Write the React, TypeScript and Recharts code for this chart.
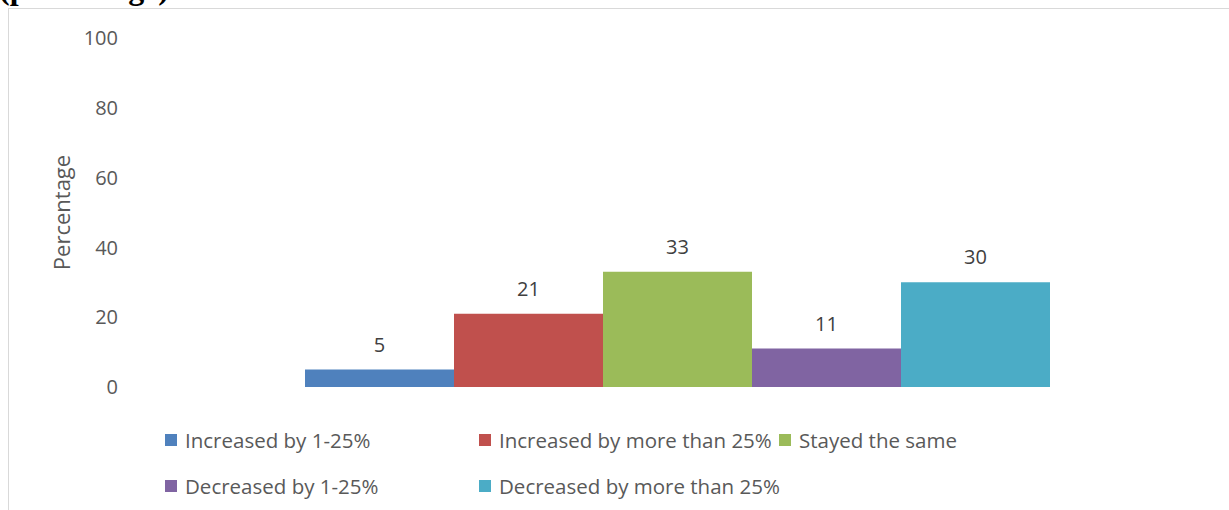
import { BarChart, Bar, XAxis, YAxis, LabelList } from 'recharts';

const seriesNames = [
  'Increased by 1-25%',
  'Increased by more than 25%',
  'Stayed the same',
  'Decreased by 1-25%',
  'Decreased by more than 25%',
];
const seriesValues = [5, 21, 33, 11, 30];
const seriesColors = ['#4F81BD', '#C0504D', '#9BBB59', '#8064A2', '#4BACC6'];
const yTicks = [0, 20, 40, 60, 80, 100];

const FONT = '"Open Sans", "Noto Sans", sans-serif';

const row: Record<string, number | string> = { name: 'All' };
seriesNames.forEach((_, i) => {
  row[`s${i}`] = seriesValues[i];
});
const data = [row];

// legend rows as in the original (3 on top, 2 below)
const legendRows = [[0, 1, 2], [3, 4]];
const colWidths = [314, 300, 300];

function AxisTitle(props: any) {
  const vb = props.viewBox;
  const cy = vb.y + vb.height / 2;
  return (
    <text
      x={61}
      y={cy}
      transform={`rotate(-90, 61, ${cy})`}
      textAnchor="middle"
      dominantBaseline="central"
      fill="#595959"
      fontSize={22}
      fontFamily={FONT}
    >
      Percentage
    </text>
  );
}

export default function App() {
  return (
    <div style={{ position: 'absolute', left: 0, top: 0, width: 1229, height: 510, overflow: 'hidden', background: '#fff' }}>
      {/* cut-off heading from the page above */}
      <svg width={220} height={9} style={{ position: 'absolute', left: 0, top: 0 }}>
        <text x={-1} y={-1} fontFamily='"Liberation Serif", serif' fontWeight="bold" fontSize={32} fill="#000">
          (percentage)
        </text>
      </svg>
      {/* chart frame */}
      <div
        style={{
          position: 'absolute',
          left: 8,
          top: 8,
          width: 1221,
          height: 502,
          borderTop: '1px solid #d9d9d9',
          borderLeft: '1px solid #d9d9d9',
          boxSizing: 'border-box',
        }}
      />
      <div style={{ position: 'absolute', left: 0, top: 0 }}>
        <BarChart
          width={1229}
          height={510}
          data={data}
          margin={{ top: 38, right: 4, bottom: 123, left: 0 }}
          barCategoryGap={175}
          barGap={0}
        >
          <XAxis dataKey="name" hide />
          <YAxis
            width={130}
            domain={[0, 100]}
            ticks={yTicks}
            axisLine={false}
            tickLine={false}
            tickSize={0}
            tickMargin={12}
            tick={{ fill: '#595959', fontSize: 20, fontFamily: FONT }}
            label={<AxisTitle />}
          />
          {seriesNames.map((name, i) => (
            <Bar key={name} dataKey={`s${i}`} name={name} fill={seriesColors[i]} isAnimationActive={false}>
              <LabelList
                dataKey={`s${i}`}
                position="top"
                offset={18}
                fill="#404040"
                fontSize={20}
                fontFamily={FONT}
              />
            </Bar>
          ))}
        </BarChart>
      </div>
      {/* legend */}
      <div style={{ position: 'absolute', left: 165, top: 417, fontFamily: FONT, fontSize: 20.5, color: '#595959' }}>
        {legendRows.map((r, ri) => (
          <div key={ri} style={{ display: 'flex', height: 46, alignItems: 'center', width: 1000 }}>
            {r.map((idx, ci) => (
              <div
                key={idx}
                style={{ width: colWidths[ci], flexShrink: 0, display: 'flex', alignItems: 'center', whiteSpace: 'nowrap' }}
              >
                <span
                  style={{ display: 'inline-block', flexShrink: 0, width: 12, height: 12, background: seriesColors[idx], marginRight: 8 }}
                />
                <span>{seriesNames[idx]}</span>
              </div>
            ))}
          </div>
        ))}
      </div>
    </div>
  );
}
